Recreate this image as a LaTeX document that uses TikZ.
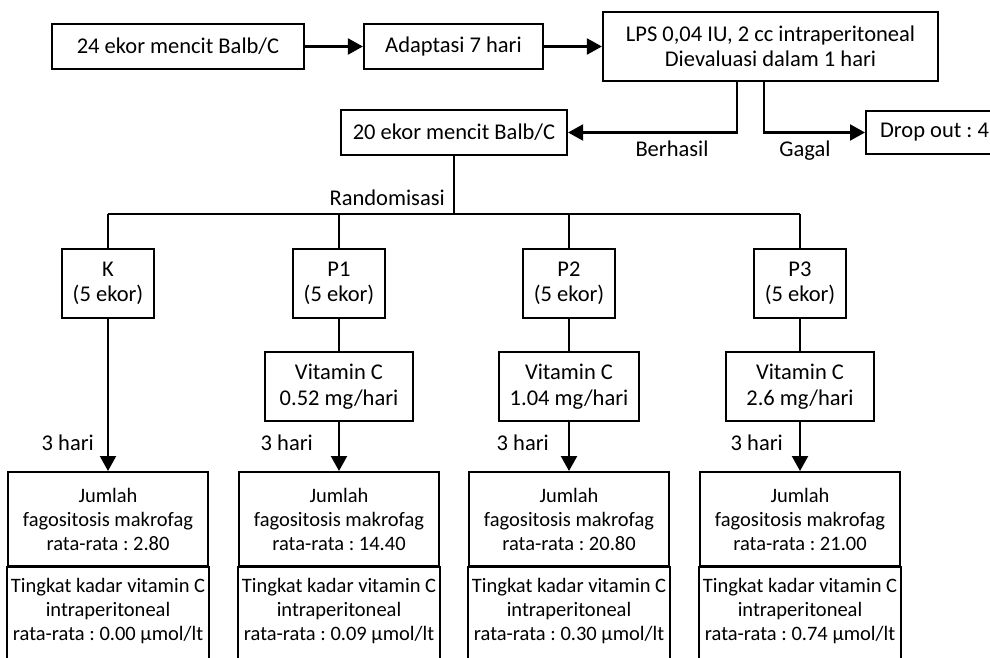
\documentclass[tikz,border=0pt]{standalone}
\usepackage{fontspec}
\setmainfont{Carlito}
\usetikzlibrary{arrows.meta,positioning}
\tikzset{big/.style={font=\fontsize{22.5}{25.5}\selectfont\frenchspacing},
  small/.style={font=\fontsize{20.5}{24}\selectfont\frenchspacing},
  box/.style={draw,line width=2.2pt,align=center,inner sep=0pt,big},
  txt/.style={inner sep=0pt,align=center,big},
  ln/.style={line width=2.2pt},ar/.style={ln,-{Triangle[length=15pt,width=16pt]}}}

\begin{document}
\begin{tikzpicture}[x=1pt,y=-1pt]
\useasboundingbox(0,0)rectangle(990,658);\clip(0,0)rectangle(990,658);
% top row
\node[box,minimum width=252pt,minimum height=45pt](n24)at(178,46.5){24 ekor mencit Balb/C};
\node[box,minimum width=179pt,minimum height=45pt](adapt)at(453.5,46.5){Adaptasi 7 hari};
\node[box,minimum width=335pt,minimum height=69pt](lps)at(770.5,46.5){LPS 0,04 IU, 2 cc intraperitoneal\\Dievaluasi dalam 1 hari};
\draw[ar](n24)--(adapt);\draw[ar](adapt)--(lps);
\node[box,minimum height=43pt,minimum width=140pt,anchor=west](drop)at(865,132.5){\makebox[112pt][l]{Drop out : 4}};
\node[box,minimum width=226pt,minimum height=45pt](n20)at(454,132.5){20 ekor mencit Balb/C};
\draw[ar]([xshift=-33.5pt]lps.south)|-(n20.east);\draw[ar]([xshift=-6.5pt]lps.south)|-(drop.west);
\node[txt,anchor=base](ok)at(672,157){Berhasil};\node[txt,anchor=base](fail)at(805,157){Gagal};
% randomisasi
\coordinate(tK)at(108,214);\coordinate(tP3)at(800,214);
\draw[ln](n20.south)--(n20.south|-tK);\draw[ln](tK)--(tP3);
\node[txt,anchor=base east](rand)at(445,205){Randomisasi};
\foreach\n/\x/\t/\f/\v/\h in{K/108/K/2.80/0.00/94,P1/339/P1/14.40/0.09/313,P2/569/P2/20.80/0.30/549,P3/800/P3/21.00/0.74/783}{
  \coordinate(t\n)at(\x,214);
  \node[box,minimum width=92pt,minimum height=69pt](g\n)at(\x,283.5){\t\\(5 ekor)};
  \draw[ln](t\n)--(g\n);
  \node[box,small,minimum width=200pt,minimum height=94pt,anchor=north](r\n)at(\x,471){Jumlah\\fagositosis makrofag\\rata-rata : \f};
  \draw[ln](r\n.south west)rectangle([yshift=-110pt]r\n.south east);
  \node[txt,small,anchor=north](k\n)at(\x,578){Tingkat kadar vitamin C\\intraperitoneal\\rata-rata : \v{} µmol/lt};
  \node[txt,anchor=base east](h\n)at(\h,450){3 hari};
}
\draw[ar](gK)--(rK);
\foreach\n/\x/\d/\w in{P1/339/0.52/148,P2/569/1.04/140,P3/800/2.6/148}{
  \node[box,minimum width=\w pt,minimum height=69pt](v\n)at(\x,386.5){Vitamin C\\\d{} mg/hari};
  \draw[ln](g\n)--(v\n);\draw[ar](v\n)--(r\n);
}
\end{tikzpicture}
\end{document}
